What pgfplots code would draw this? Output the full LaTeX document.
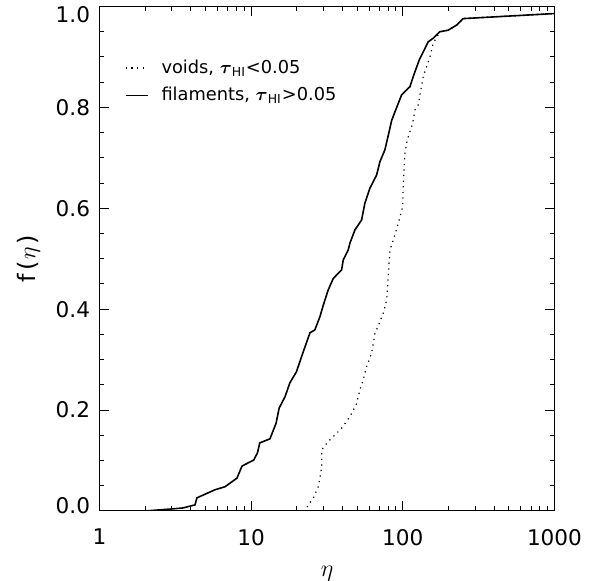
\documentclass[border=0pt]{standalone}
\usepackage{amsmath}
\usepackage{fontspec}
\setmainfont{DejaVu Sans}
\usepackage{pgfplots}
\pgfplotsset{compat=1.18}
\usetikzlibrary{calc}

\pgfplotstableread{
eta f
2 0
3 0.004
3.55 0.006
4.26 0.012
4.39 0.026
5.77 0.042
6.72 0.048
8.06 0.065
8.7 0.089
10.4 0.101
11.0 0.115
11.4 0.135
13.3 0.143
14.6 0.174
15.3 0.204
16.7 0.226
18.0 0.254
19.9 0.276
21.5 0.306
24.4 0.353
26.3 0.359
28.4 0.385
29.9 0.408
32.2 0.438
34.8 0.461
39.5 0.478
40.5 0.498
43.6 0.517
44.8 0.531
48.3 0.557
53.5 0.577
56.2 0.610
60.7 0.640
67.2 0.666
70.6 0.692
76.2 0.716
80.1 0.744
84.4 0.774
88.7 0.791
98.2 0.825
111.4 0.841
117.1 0.861
128.3 0.894
136.3 0.910
147 0.930
158.6 0.937
175.6 0.950
199 0.953
226 0.963
250 0.976
1000 0.986
}\filaments

\pgfplotstableread{
eta f
22.1 0
22.6 0.001
25.7 0.026
27.7 0.048
28.4 0.065
29.2 0.088
29.2 0.121
31.5 0.134
33.1 0.141
39.5 0.164
44.8 0.187
49.6 0.213
52.1 0.240
54.8 0.260
57.7 0.286
62.3 0.313
65.5 0.352
69.9 0.372
74.3 0.392
78.2 0.418
78.9 0.432
80.1 0.464
81.4 0.498
82.2 0.517
86.5 0.537
93.3 0.570
99.7 0.603
100.6 0.643
101.7 0.676
103.2 0.709
106.9 0.735
116.0 0.768
120.2 0.795
126.3 0.805
136.3 0.861
150.9 0.900
158.6 0.927
175.6 0.950
199 0.953
226 0.963
250 0.976
1000 0.986
}\voids

\begin{document}
\begin{tikzpicture}
\begin{semilogxaxis}[
  name=ax,
  scale only axis,
  width=227.5pt, height=252.25pt,
  xmin=1, xmax=1000, ymin=0, ymax=1,
  xtick={1,10,100,1000},
  xticklabels={1,10,100,1000},
  ytick={0,0.2,0.4,0.6,0.8,1.0},
  minor y tick num=3,
  yticklabel style={/pgf/number format/fixed, /pgf/number format/fixed zerofill, /pgf/number format/precision=1, font=\fontsize{10.8}{13}\selectfont, xshift=-1.2pt,
    yshift={ifthenelse(\ticknum==0,2.5,ifthenelse(\ticknum==5,-4,0))}},
  xticklabel style={font=\fontsize{10.8}{13}\selectfont, yshift=-5.5pt},
  /pgf/number format/assume math mode=true,
  tick align=inside,
  major tick length=5pt,
  minor tick length=2.5pt,
  every tick/.style={black, line width=0.5pt},
  axis line style={black, line width=0.5pt},
  xlabel={$\eta$},
  ylabel={f\kern1.5pt(\kern1pt$\eta$\kern1pt)},
  every axis x label/.style={at={(axis description cs:0.5,-0.125)}, anchor=center, font=\fontsize{13}{15}\selectfont},
  every axis y label/.style={at={(axis description cs:-0.156,0.5)}, anchor=center, rotate=90, font=\fontsize{12}{14}\selectfont},
  legend cell align=left,
  legend style={draw=none, fill=none, at={(axis description cs:0.055,0.903)}, anchor=north west, font=\fontsize{8.9}{10.5}\selectfont, row sep=1.5pt, inner sep=0pt,
    /tikz/every odd column/.append style={column sep=4.5pt}},
  legend image code/.code={\draw[#1] (0pt,0pt) -- (11pt,0pt);},
]
\addplot[black, line width=0.6pt, dash pattern=on 0.6pt off 2.2pt] table[x=eta, y=f] {\voids};
\addlegendentry{voids, $\boldsymbol{\tau}_{\text{HI}}$<0.05}
\addplot[black, line width=0.8pt] table[x=eta, y=f] {\filaments};
\addlegendentry{filaments, $\boldsymbol{\tau}_{\text{HI}}$>0.05}
\end{semilogxaxis}
\pgfresetboundingbox
\path ($(ax.south west)+(-49.75pt,-35pt)$) rectangle ($(ax.north east)+(22.75pt,3.25pt)$);
\end{tikzpicture}
\end{document}
